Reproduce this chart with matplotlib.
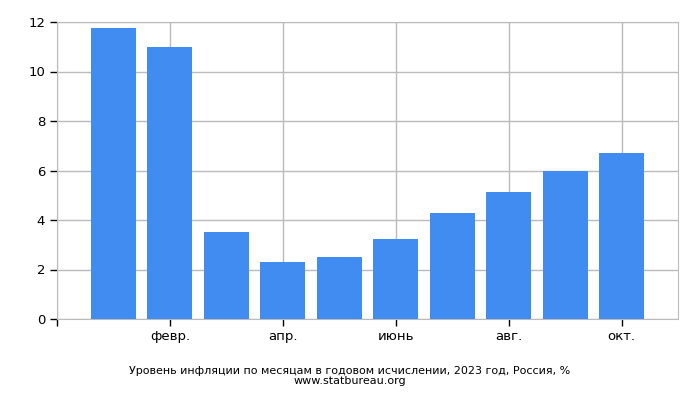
import numpy as np
import matplotlib.pyplot as plt

months = ["янв.", "февр.", "март", "апр.", "май", "июнь", "июль", "авг.", "сент.", "окт."]
values = [11.77, 10.99, 3.51, 2.31, 2.51, 3.25, 4.30, 5.15, 6.00, 6.69]
yticks = [0, 2, 4, 6, 8, 10, 12]

fig = plt.figure(figsize=(7, 4), dpi=100)
ax = fig.add_axes([57/700, 1-319/400, (678-57)/700, (319-22)/400])

x = np.arange(len(values))
ax.bar(x, values, width=0.8, color="#418cf0", zorder=3)

ax.set_xlim(-1, 10)
ax.set_ylim(0, 12)
ax.set_yticks(yticks)
ax.set_xticks([-1, 1, 3, 5, 7, 9])
ax.set_xticklabels([""] + [months[i] for i in [1, 3, 5, 7, 9]])
ax.grid(True, color="#bbbbbb", linewidth=1, zorder=0)
for s in ax.spines.values():
    s.set_color("#bbbbbb")
ax.tick_params(axis="both", length=5, width=1, color="black", labelsize=9.5)
ax.tick_params(axis="x", pad=3)

fig.text(0.5, 1-371/400, "Уровень инфляции по месяцам в годовом исчислении, 2023 год, Россия, %",
         ha="center", va="center", fontsize=8)
fig.text(0.5, 1-381/400, "www.statbureau.org", ha="center", va="center", fontsize=8)

fig.savefig("out.png")
